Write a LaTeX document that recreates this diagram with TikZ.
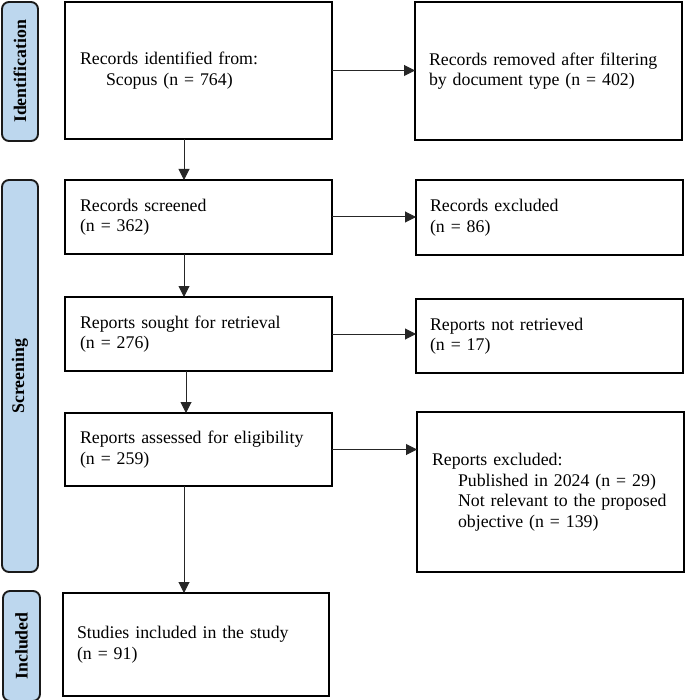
\documentclass[tikz,border=0pt]{standalone}
\usepackage{fontspec}
\setmainfont{Liberation Serif}
\usetikzlibrary{arrows.meta}
\definecolor{barblue}{HTML}{BDD7EE}
\definecolor{bardraw}{HTML}{1A1A1A}
\tikzset{
  txt/.style={font=\fontsize{17.8}{20.5}\selectfont},
  box/.style={txt, draw=black, line width=1.8pt, anchor=north west, inner xsep=0pt, inner ysep=0pt, outer sep=0pt, align=left},
  bar/.style={draw=bardraw, fill=barblue, line width=1.9pt, rounded corners=7pt, anchor=north west, inner sep=0pt, outer sep=0pt},
  barlabel/.style={font=\fontsize{17.8}{20.5}\selectfont\bfseries, rotate=90, inner sep=0pt},
  arr/.style={draw=black!85, line width=1pt, -{Triangle[length=11pt,width=11pt]}}
}
\begin{document}
\begin{tikzpicture}[x=1pt,y=-1pt]
\useasboundingbox (0,0) rectangle (685,700);
% phase bars
\node[bar, minimum width=36pt, minimum height=139pt] (idb) at (2,2) {};
\node[barlabel] (idl) at (idb.center) {Identification};
\node[bar, minimum width=36pt, minimum height=392pt] (scb) at (2,180) {};
\node[barlabel] (scl) at (scb.center) {Screening};
\node[bar, minimum width=37pt, minimum height=110pt] (inb) at (3,591) {};
\node[barlabel] (inl) at (inb.center) {Included};
% boxes
\node[box, minimum width=267pt, minimum height=137pt, text width=237pt] (A) at (65,2)
  {Records identified from:\\\hspace*{26pt}Scopus (n = 764)};
\node[box, minimum width=267pt, minimum height=138pt, text width=239pt] (B) at (415,2)
  {Records removed after filtering\\by document type (n = 402)};
\node[box, minimum width=267pt, minimum height=74pt, text width=237pt] (C) at (65,180)
  {Records screened\\(n = 362)};
\node[box, minimum width=267pt, minimum height=75pt, text width=239pt] (D) at (416,180)
  {Records excluded\\(n = 86)};
\node[box, minimum width=267pt, minimum height=74pt, text width=237pt] (E) at (65,297)
  {Reports sought for retrieval\\(n = 276)};
\node[box, minimum width=267pt, minimum height=74pt, text width=239pt] (F) at (416,299)
  {Reports not retrieved\\(n = 17)};
\node[box, minimum width=267pt, minimum height=73pt, text width=237pt] (G) at (65,413)
  {Reports assessed for eligibility\\(n = 259)};
\node[box, minimum width=267pt, minimum height=160pt, text width=237pt] (H) at (417,412)
  {Reports excluded:\\\hspace*{26pt}Published in 2024 (n = 29)\\\hspace*{26pt}Not relevant to the proposed\\\hspace*{26pt}objective (n = 139)};
\node[box, minimum width=266pt, minimum height=103pt, text width=238pt] (I) at (63,593)
  {Studies included in the study\\(n = 91)};
% connectors
\coordinate (x1) at (184,0);
\coordinate (x2) at (186,0);
\draw[arr] (A.east) -- (A.east -| B.west);
\draw[arr] (C.east) -- (C.east -| D.west);
\draw[arr] (E.east) -- (E.east -| F.west);
\draw[arr] (G.east) -- (G.east -| H.west);
\draw[arr] (x1 |- A.south) -- (x1 |- C.north);
\draw[arr] (x1 |- C.south) -- (x1 |- E.north);
\draw[arr] (x2 |- E.south) -- (x2 |- G.north);
\draw[arr] (x1 |- G.south) -- (x1 |- I.north);
\end{tikzpicture}
\end{document}
